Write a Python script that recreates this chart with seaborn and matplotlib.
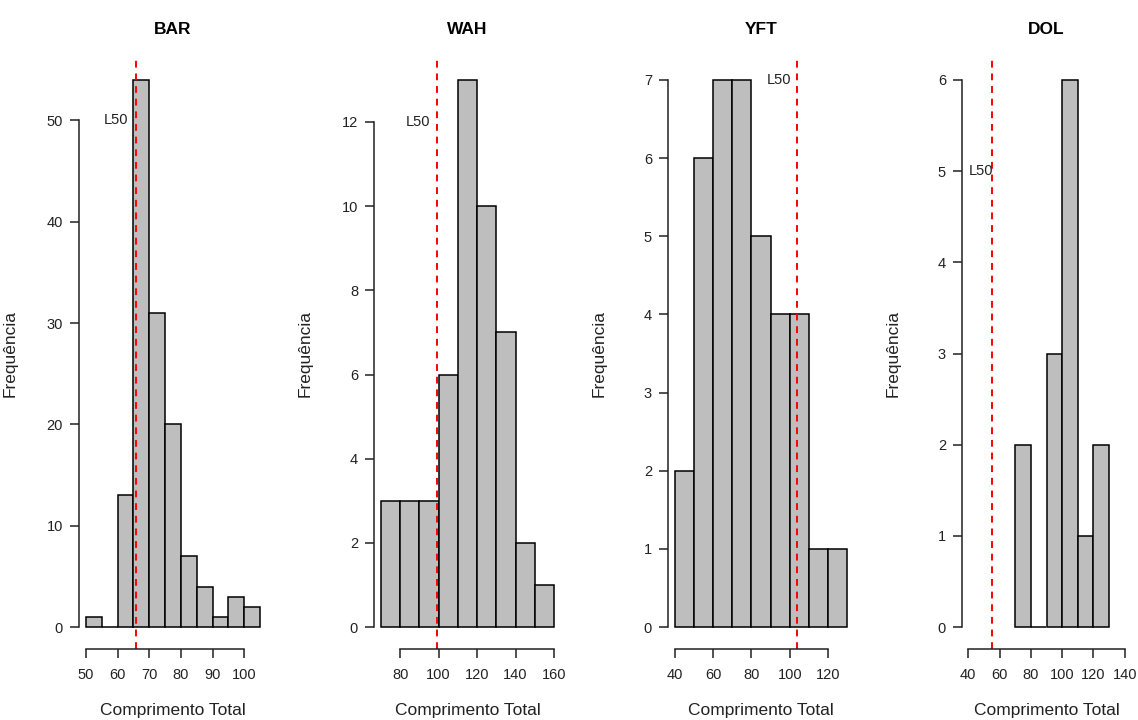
import numpy as np
import pandas as pd
import matplotlib
matplotlib.use("Agg")
import matplotlib.pyplot as plt
import seaborn as sns

# dados (histogramas de comprimento total)
species = ["BAR", "WAH", "YFT", "DOL"]

bar_breaks = [50, 55, 60, 65, 70, 75, 80, 85, 90, 95, 100, 105]
bar_counts = [1, 0, 13, 54, 31, 20, 7, 4, 1, 3, 2]

wah_breaks = [70, 80, 90, 100, 110, 120, 130, 140, 150, 160]
wah_counts = [3, 3, 3, 6, 13, 10, 7, 2, 1]

yft_breaks = [40, 50, 60, 70, 80, 90, 100, 110, 120, 130]
yft_counts = [2, 6, 7, 7, 5, 4, 4, 1, 1]

dol_breaks = [70, 80, 90, 100, 110, 120, 130]
dol_counts = [2, 0, 3, 6, 1, 2]

# L50 de cada espécie e altura do rótulo
l50_values = [65.9, 99.2, 103.8, 55.4]
l50_label_y = [50, 12, 7, 5]

# faixas do eixo x e ticks
x_ranges = [(50, 105), (70, 160), (40, 130), (40, 140)]
x_ticks = [[50, 60, 70, 80, 90, 100],
           [80, 100, 120, 140, 160],
           [40, 60, 80, 100, 120],
           [40, 60, 80, 100, 120, 140]]
y_ticks = [[0, 10, 20, 30, 40, 50],
           [0, 2, 4, 6, 8, 10, 12],
           [0, 1, 2, 3, 4, 5, 6, 7],
           [0, 1, 2, 3, 4, 5, 6]]

breaks_all = [bar_breaks, wah_breaks, yft_breaks, dol_breaks]
counts_all = [bar_counts, wah_counts, yft_counts, dol_counts]

sns.set_theme(style="white")
plt.rcParams["font.family"] = ["Liberation Sans", "DejaVu Sans"]

W, H = 1138, 720
fig = plt.figure(figsize=(W / 100, H / 100), dpi=100)

# posição das áreas de plot em pixels (esquerda, largura)
panel_left = [79, 374, 668, 962]
panel_width = [188, 187, 186, 169]
top_px, bottom_px = 58, 649
label_dx = [-6, -5, -4, 1]  # deslocamento do texto L50 (pontos)

text_col = "#222222"

for i, sp in enumerate(species):
    ax = fig.add_axes([panel_left[i] / W, (H - bottom_px) / H,
                       panel_width[i] / W, (bottom_px - top_px) / H])
    breaks = breaks_all[i]
    counts = counts_all[i]
    mids = [(breaks[k] + breaks[k + 1]) / 2 for k in range(len(counts))]
    df = pd.DataFrame({"comp": mids, "n": counts})

    sns.histplot(data=df, x="comp", weights="n", bins=breaks, ax=ax,
                 color="#BEBEBE", edgecolor="black", linewidth=1.1, alpha=1)

    # limites estilo R (4% de folga)
    lo, hi = x_ranges[i]
    pad = 0.04 * (hi - lo)
    ax.set_xlim(lo - pad, hi + pad)
    ymax = max(counts)
    ax.set_ylim(-0.04 * ymax, 1.04 * ymax)

    ax.axvline(l50_values[i], color="red", linestyle=(0, (3.5, 3)), linewidth=1.4)
    ax.annotate("L50", xy=(l50_values[i], l50_label_y[i]), xytext=(label_dx[i], 0),
                textcoords="offset points", ha="right", va="center",
                fontsize=10.5, color=text_col)

    ax.set_xticks(x_ticks[i])
    ax.set_yticks(y_ticks[i])
    for s in ["top", "right"]:
        ax.spines[s].set_visible(False)
    ax.spines["left"].set_bounds(y_ticks[i][0], y_ticks[i][-1])
    ax.spines["bottom"].set_bounds(x_ticks[i][0], x_ticks[i][-1])
    for s in ["left", "bottom"]:
        ax.spines[s].set_color("#222222")
        ax.spines[s].set_linewidth(1.1)
    ax.tick_params(axis="both", direction="out", length=6.5, width=1.1,
                   color="#222222", labelsize=10.5, labelcolor=text_col,
                   left=True, bottom=True)
    ax.tick_params(axis="y", pad=5)
    ax.tick_params(axis="x", pad=7)

    ax.set_title(sp, fontsize=12.5, fontweight="bold", pad=17, color="black")
    ax.set_xlabel("Comprimento Total", fontsize=12.5, labelpad=15, color=text_col)
    ax.set_ylabel("Frequência", fontsize=12.5, color=text_col)
    ax.yaxis.set_label_coords(-61 / panel_width[i], 0.5)
    ax.grid(False)

fig.savefig("out.png", dpi=100)
